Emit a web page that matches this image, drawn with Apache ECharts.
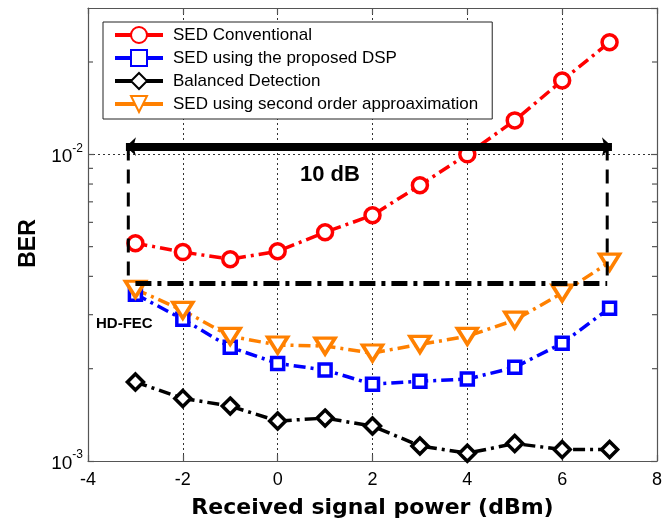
<!DOCTYPE html>
<html><head><meta charset="utf-8">
<script src="https://cdn.jsdelivr.net/npm/echarts@6/dist/echarts.min.js"></script>
<style>html,body{margin:0;padding:0;background:#fff}#c{width:665px;height:525px}</style>
</head><body><div id="c"></div>
<script>
// ---- data ----
const xValues = [-3, -2, -1, 0, 1, 2, 3, 4, 5, 6, 7];
const sedConventional = [5.13e-3, 4.80e-3, 4.55e-3, 4.83e-3, 5.57e-3, 6.33e-3, 7.93e-3, 1.0e-2, 1.29e-2, 1.74e-2, 2.32e-2];
const sedProposedDSP = [3.50e-3, 2.90e-3, 2.35e-3, 2.08e-3, 1.98e-3, 1.78e-3, 1.82e-3, 1.85e-3, 2.02e-3, 2.42e-3, 3.15e-3];
const balancedDetection = [1.81e-3, 1.60e-3, 1.51e-3, 1.35e-3, 1.38e-3, 1.30e-3, 1.12e-3, 1.06e-3, 1.14e-3, 1.09e-3, 1.09e-3];
const sedSecondOrder = [3.63e-3, 3.10e-3, 2.55e-3, 2.39e-3, 2.37e-3, 2.25e-3, 2.40e-3, 2.55e-3, 2.88e-3, 3.53e-3, 4.45e-3];
const seriesNames = ['SED Conventional', 'SED using the proposed DSP', 'Balanced Detection', 'SED using second order approaximation'];
const xTickMin = -4, xTickMax = 8, xTickStep = 2;
const yMin = 1e-3, yMax = 3e-2;
const yMinorTicks = [2e-3, 3e-3, 4e-3, 5e-3, 6e-3, 7e-3, 8e-3, 9e-3, 2e-2];
const hdFecLevel = 3.8e-3;
const hdFecSpan = [-3, 6.95];
const arrowLevel = 1.06e-2;
const arrowSpan = [-3.2, 7.05];
const bracketX = [-3.15, 6.95];
const annotationTexts = ['HD-FEC', '10 dB'];

const FONT = '"Liberation Sans", Arial, Helvetica, sans-serif';
const pair = (ys) => xValues.map((x, i) => [x, ys[i]]);

const chart = echarts.init(document.getElementById('c'), null, {renderer: 'canvas'});

const lineSeries = (name, ys, color, symbol, size, extra) => Object.assign({
  name: name,
  type: 'line',
  data: pair(ys),
  symbol: symbol,
  symbolSize: size,
  showAllSymbol: true,
  lineStyle: {color: color, width: 3.5, type: [12, 5, 3, 5]},
  itemStyle: {color: '#ffffff', borderColor: color, borderWidth: 3.5},
  emphasis: {disabled: true},
  z: 3
}, extra || {});

const axisLineStyle = {color: '#555', width: 1.2};

const option = {
  animation: false,
  backgroundColor: '#fff',
  textStyle: {fontFamily: FONT},
  grid: {left: 88, right: 2, top: 8, bottom: 64, containLabel: false},
  legend: {
    data: seriesNames,
    orient: 'vertical',
    left: 103, top: 22,
    padding: [4, 14, 6, 10],
    itemWidth: 48, itemHeight: 20, itemGap: 5,
    backgroundColor: '#fff',
    borderColor: '#222', borderWidth: 1, borderRadius: 0,
    lineStyle: {type: 'solid', width: 4},
    textStyle: {fontFamily: FONT, fontSize: 17, color: '#000', padding: [0, 0, 0, 5]},
    selectedMode: false
  },
  xAxis: [{
    type: 'value', min: xTickMin, max: xTickMax, interval: xTickStep,
    position: 'bottom',
    name: 'Received signal power (dBm)', nameLocation: 'middle', nameGap: 36,
    nameTextStyle: {fontFamily: '"DejaVu Sans", sans-serif', fontSize: 22, fontWeight: 'bold', color: '#000'},
    axisLine: {show: true, onZero: false, lineStyle: axisLineStyle},
    axisTick: {show: true, inside: true, length: 6, lineStyle: axisLineStyle},
    axisLabel: {fontFamily: FONT, fontSize: 18, color: '#000', margin: 10},
    splitLine: {show: true, lineStyle: {color: '#333', width: 1, type: [2, 3]}}
  }, {
    type: 'value', min: xTickMin, max: xTickMax, interval: xTickStep,
    position: 'top',
    axisLine: {show: true, onZero: false, lineStyle: axisLineStyle},
    axisTick: {show: true, inside: true, length: 6, lineStyle: axisLineStyle},
    axisLabel: {show: false},
    splitLine: {show: false}
  }],
  yAxis: [{
    type: 'log', logBase: 10, min: yMin, max: yMax,
    position: 'left',
    name: 'BER', nameLocation: 'middle', nameGap: 48, nameRotate: 90,
    nameTextStyle: {fontFamily: FONT, fontSize: 23, fontWeight: 'bold', color: '#000', padding: [0, 18, 0, 0]},
    axisLine: {show: true, onZero: false, lineStyle: axisLineStyle},
    axisTick: {show: true, inside: true, length: 6, lineStyle: axisLineStyle},
    axisLabel: {
      show: true, margin: 5, showMaxLabel: false,
      formatter: function (v) {
        const e = Math.round(Math.log10(v));
        if (Math.abs(v / Math.pow(10, e) - 1) > 1e-6) return '';
        return '{b|10}{s|' + e + '}';
      },
      rich: {
        b: {fontFamily: FONT, fontSize: 19, color: '#000', lineHeight: 24, verticalAlign: 'bottom'},
        s: {fontFamily: FONT, fontSize: 12, color: '#000', lineHeight: 12, verticalAlign: 'top'}
      }
    },
    splitLine: {show: true, lineStyle: {color: '#333', width: 1, type: [2, 3]}}
  }, {
    type: 'log', logBase: 10, min: yMin, max: yMax,
    position: 'right',
    axisLine: {show: true, onZero: false, lineStyle: axisLineStyle},
    axisTick: {show: true, inside: true, length: 6, lineStyle: axisLineStyle},
    axisLabel: {show: false},
    splitLine: {show: false}
  }],
  series: [
    lineSeries(seriesNames[0], sedConventional, '#ff0000', 'circle', 15),
    lineSeries(seriesNames[1], sedProposedDSP, '#0000ff', 'rect', 12),
    lineSeries(seriesNames[2], balancedDetection, '#000000', 'diamond', [16, 16]),
    lineSeries(seriesNames[3], sedSecondOrder, '#ff8000', 'triangle', [20, 16], {symbolRotate: 180}),
    {
      name: 'annotations', type: 'line', data: [], silent: true, z: 6,
      markLine: {
        silent: true, animation: false, symbol: 'none', label: {show: false},
        emphasis: {disabled: true},
        data: [
          [{coord: [hdFecSpan[0], hdFecLevel], lineStyle: {color: '#000', width: 5, type: [16, 6, 4, 6]}},
           {coord: [hdFecSpan[1], hdFecLevel]}],
          [{coord: [arrowSpan[0], arrowLevel], symbol: 'arrow', symbolSize: [14, 10], lineStyle: {color: '#000', width: 8, type: 'solid'}},
           {coord: [arrowSpan[1], arrowLevel], symbol: 'arrow', symbolSize: [14, 10]}]
        ]
      }
    }
  ]
};
chart.setOption(option);

function addOverlays() {
  const g = [];
  const xl = chart.convertToPixel({xAxisIndex: 0}, xTickMin);
  const xr = chart.convertToPixel({xAxisIndex: 0}, xTickMax);
  yMinorTicks.forEach(function (v) {
    const y = chart.convertToPixel({yAxisIndex: 0}, v);
    g.push({type: 'line', shape: {x1: xl, y1: y, x2: xl + 5, y2: y}, style: {stroke: '#555', lineWidth: 1.2}, z: 10});
    g.push({type: 'line', shape: {x1: xr, y1: y, x2: xr - 5, y2: y}, style: {stroke: '#555', lineWidth: 1.2}, z: 10});
  });
  // dashed bracket lines from the arrow down to the HD-FEC level, positioned via the axes
  bracketX.forEach(function (bx) {
    const p1 = chart.convertToPixel({xAxisIndex: 0, yAxisIndex: 0}, [bx, arrowLevel]);
    const p2 = chart.convertToPixel({xAxisIndex: 0, yAxisIndex: 0}, [bx, hdFecLevel]);
    g.push({type: 'line', shape: {x1: p1[0], y1: p1[1], x2: p2[0], y2: p2[1]},
      style: {stroke: '#000', lineWidth: 3, lineDash: [14, 9]}, z: 9, silent: true});
  });
  g.push({type: 'text', left: 96, top: 316, z: 10,
    style: {text: annotationTexts[0], fontFamily: FONT, fontSize: 15, fontWeight: 'bold', fill: '#000'}});
  g.push({type: 'text', left: 300, top: 164, z: 10,
    style: {text: annotationTexts[1], fontFamily: FONT, fontSize: 22, fontWeight: 'bold', fill: '#000'}});
  chart.setOption({graphic: g});
}
addOverlays();
</script>
</body></html>
